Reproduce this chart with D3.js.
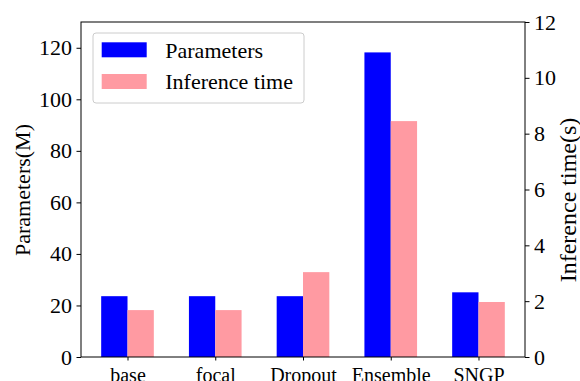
<!DOCTYPE html>
<html><head><meta charset="utf-8">
<script src="https://cdn.jsdelivr.net/npm/d3@7"></script>
<style>body{margin:0;background:#fff}svg{display:block}text{font-family:"Liberation Serif","Times New Roman",serif;fill:#000}</style>
</head><body><svg id="c" width="580" height="381"></svg>
<script>
const categories = ["base", "focal", "Dropout", "Ensemble", "SNGP"];
const parameters = [23.6, 23.6, 23.6, 118.2, 25.1];
const inferenceTime = [1.68, 1.68, 3.04, 8.45, 1.97];
const leftTicks = [0, 20, 40, 60, 80, 100, 120];
const rightTicks = [0, 2, 4, 6, 8, 10, 12];
const seriesNames = ["Parameters", "Inference time"];
const colors = ["#0000ff", "#ff9aa2"];

const svg = d3.select("#c");
const L = 81, R = 525, T = 22, B = 357;
const x = d3.scaleLinear().domain([-0.53, 4.53]).range([L, R]);
const yL = d3.scaleLinear().domain([0, 130]).range([B, T]);
const yR = d3.scaleLinear().domain([0, 12.0]).range([B, T]);
const w = 0.3;

svg.append("g").selectAll("rect").data(parameters).join("rect")
  .attr("x", (d, i) => x(i - w)).attr("width", x(w) - x(0))
  .attr("y", d => yL(d)).attr("height", d => B - yL(d)).attr("fill", colors[0]);
svg.append("g").selectAll("rect").data(inferenceTime).join("rect")
  .attr("x", (d, i) => x(i)).attr("width", x(w) - x(0))
  .attr("y", d => yR(d)).attr("height", d => B - yR(d)).attr("fill", colors[1]);

const ax = d3.axisLeft(yL).tickValues(leftTicks).tickSize(4.5).tickPadding(4.5);
const gl = svg.append("g").attr("transform", `translate(${L},0)`).call(ax);
const ar = d3.axisRight(yR).tickValues(rightTicks).tickSize(4.5).tickPadding(4.5);
const gr = svg.append("g").attr("transform", `translate(${R},0)`).call(ar);
const ab = d3.axisBottom(x).tickValues(d3.range(categories.length)).tickFormat(i => categories[i]).tickSize(3.5).tickPadding(7);
const gb = svg.append("g").attr("transform", `translate(0,${B})`).call(ab);
[[gl, "22px"], [gr, "22px"], [gb, "20px"]].forEach(([g, f]) => {
  g.select(".domain").remove();
  g.selectAll("text").style("font-size", f);
  g.selectAll("line").attr("stroke", "#000").attr("stroke-width", 1);
  g.attr("font-family", null).attr("font-size", null);
});
gb.selectAll("text").attr("dy", "0.71em");

svg.append("rect").attr("x", L).attr("y", T).attr("width", R - L).attr("height", B - T)
  .attr("fill", "none").attr("stroke", "#000").attr("stroke-width", 1);

svg.append("text").attr("transform", `translate(30,190) rotate(-90)`)
  .attr("text-anchor", "middle").style("font-size", "22px").text("Parameters(M)");
svg.append("text").attr("transform", `translate(576,200) rotate(-90)`)
  .attr("text-anchor", "middle").style("font-size", "24px").text("Inference time(s)");

const lg = svg.append("g");
lg.append("rect").attr("x", 93).attr("y", 33).attr("width", 211).attr("height", 70)
  .attr("rx", 3).attr("fill", "#fff").attr("fill-opacity", 0.8).attr("stroke", "#cccccc");
seriesNames.forEach((s, i) => {
  const yy = 42.3 + i * 31.7;
  lg.append("rect").attr("x", 101.7).attr("y", yy).attr("width", 45).attr("height", 15).attr("fill", colors[i]);
  lg.append("text").attr("x", 165.3).attr("y", yy + 7.5).attr("dy", "0.35em").style("font-size", "22px").text(s);
});
</script></body></html>
